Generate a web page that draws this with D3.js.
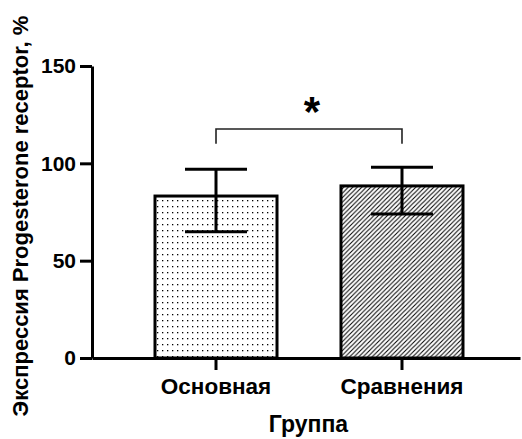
<!DOCTYPE html>
<html>
<head>
<meta charset="utf-8">
<script src="https://cdn.jsdelivr.net/npm/d3@7"></script>
<style>
  html, body { margin: 0; padding: 0; background: #fff; }
  svg { display: block; }
  text { font-family: "Liberation Sans", Arial, Helvetica, sans-serif; font-weight: bold; fill: #000; }
</style>
</head>
<body>
<svg id="chart" width="522" height="439"></svg>
<script>
// ---- data ----
const categories = ["Основная", "Сравнения"];
const means = [83.2, 88.4];
const errUpper = [96.9, 98.0];
const errLower = [64.9, 74.0];
const yTicks = [0, 50, 100, 150];
const yLabel = "Экспрессия Progesterone receptor, %";
const xLabel = "Группа";
const sigLabel = "*";
const bracketTop = 117.6, bracketFoot = 110;

// ---- layout ----
const svg = d3.select("#chart");
const x0 = 92, x1 = 520, yTop = 66, yBot = 358;

const y = d3.scaleLinear().domain([0, 150]).range([yBot, yTop]);
const x = d3.scaleBand().domain(categories).range([x0, x1])
  .paddingInner(0.344).paddingOuter(0.3226).align(0.525);

// patterns
const defs = svg.append("defs");
const dots = defs.append("pattern").attr("id", "dots").attr("patternUnits", "userSpaceOnUse")
  .attr("width", 5).attr("height", 6);
dots.append("rect").attr("width", 5).attr("height", 6).attr("fill", "#fff");
dots.append("rect").attr("x", 2).attr("y", 2).attr("width", 1.3).attr("height", 1.3).attr("fill", "#000");

const hatch = defs.append("pattern").attr("id", "hatch").attr("patternUnits", "userSpaceOnUse")
  .attr("width", 4.5).attr("height", 4.5);
hatch.append("rect").attr("width", 4.5).attr("height", 4.5).attr("fill", "#fff");
hatch.append("path").attr("d", "M-1,1 l2,-2 M0,4.5 l4.5,-4.5 M3.5,5.5 l2,-2")
  .attr("stroke", "#000").attr("stroke-width", 1.05);

const fills = ["url(#dots)", "url(#hatch)"];

// bars
svg.append("g").selectAll("rect").data(categories).join("rect")
  .attr("x", d => x(d))
  .attr("y", (d, i) => y(means[i]))
  .attr("width", x.bandwidth())
  .attr("height", (d, i) => y(0) - y(means[i]))
  .attr("fill", (d, i) => fills[i])
  .attr("stroke", "#000").attr("stroke-width", 3);

// error bars
const capHalf = 31;
const eb = svg.append("g").attr("stroke", "#000").attr("stroke-width", 3);
categories.forEach((c, i) => {
  const cx = x(c) + x.bandwidth() / 2;
  eb.append("line").attr("x1", cx).attr("x2", cx).attr("y1", y(errLower[i])).attr("y2", y(errUpper[i]));
  eb.append("line").attr("x1", cx - capHalf).attr("x2", cx + capHalf).attr("y1", y(errUpper[i])).attr("y2", y(errUpper[i]));
  eb.append("line").attr("x1", cx - capHalf).attr("x2", cx + capHalf).attr("y1", y(errLower[i])).attr("y2", y(errLower[i]));
});

// y axis
const yAxis = svg.append("g").attr("transform", `translate(${x0},0)`)
  .call(d3.axisLeft(y).tickValues(yTicks).tickSize(12).tickPadding(4).tickSizeOuter(0));
yAxis.select(".domain").attr("stroke-width", 3);
yAxis.selectAll(".tick line").attr("stroke-width", 3);
yAxis.selectAll(".tick text").style("font-size", "21px");

// x axis
const xAxis = svg.append("g").attr("transform", `translate(0,${yBot})`)
  .call(d3.axisBottom(x).tickSize(12).tickPadding(8).tickSizeOuter(0));
xAxis.select(".domain").attr("stroke-width", 3);
xAxis.selectAll(".tick line").attr("stroke-width", 3);
xAxis.selectAll(".tick text").style("font-size", "22.5px");

// axis titles
svg.append("text").attr("transform", `translate(28,216) rotate(-90)`)
  .attr("text-anchor", "middle").style("font-size", "22px").text(yLabel);
svg.append("text").attr("x", 308.5).attr("y", 432)
  .attr("text-anchor", "middle").style("font-size", "23px").text(xLabel);

// significance bracket
const c1 = x(categories[0]) + x.bandwidth() / 2;
const c2 = x(categories[1]) + x.bandwidth() / 2;
svg.append("path")
  .attr("d", `M${c1},${y(bracketFoot)}V${y(bracketTop)}H${c2}V${y(bracketFoot)}`)
  .attr("fill", "none").attr("stroke", "#222").attr("stroke-width", 1.6);
svg.append("text").attr("x", (c1 + c2) / 2 + 3).attr("y", 126)
  .attr("text-anchor", "middle").style("font-size", "42px").text(sigLabel);
</script>
</body>
</html>
